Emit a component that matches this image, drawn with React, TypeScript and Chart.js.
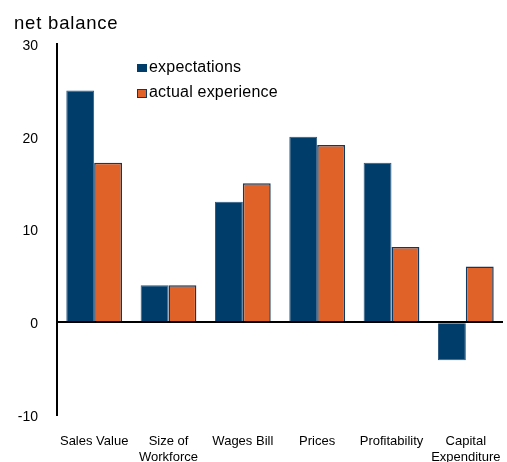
import React, { useEffect, useRef } from "react";
import { Chart, registerables } from "chart.js";

Chart.register(...registerables);

const categories: (string | string[])[] = [
  "Sales Value",
  ["Size of", "Workforce"],
  "Wages Bill",
  "Prices",
  "Profitability",
  ["Capital", "Expenditure"],
];
const expectations = [25, 4, 13, 20, 17.2, -4.1];
const actualExperience = [17.2, 4, 15, 19.1, 8.1, 6];
const seriesNames = ["expectations", "actual experience"];
const yTicks = [-10, 0, 10, 20, 30];
const yTitle = "net balance";

const BLUE = "#003d6a";
const ORANGE = "#e06228";
const FONT = "'Liberation Sans', Arial, sans-serif";

export default function App() {
  const ref = useRef<HTMLCanvasElement | null>(null);

  useEffect(() => {
    document.body.style.margin = "0";
    const ctx = ref.current;
    if (!ctx) return;
    const chart = new Chart(ctx, {
      type: "bar",
      data: {
        labels: categories,
        datasets: [
          {
            label: seriesNames[0],
            data: expectations,
            backgroundColor: BLUE,
            borderColor: "#2a5882",
            borderWidth: 1,
            categoryPercentage: 0.75,
            barPercentage: 1,
          },
          {
            label: seriesNames[1],
            data: actualExperience,
            backgroundColor: ORANGE,
            borderColor: "#0c3a62",
            borderWidth: 1.5,
            categoryPercentage: 0.75,
            barPercentage: 1,
          },
        ],
      },
      options: {
        responsive: false,
        animation: false,
        layout: { padding: { top: 44, right: 4, left: 0, bottom: 0 } },
        plugins: {
          legend: { display: false },
          title: { display: false },
          tooltip: { enabled: false },
        },
        scales: {
          x: {
            grid: { display: false, drawTicks: false },
            border: { display: false },
            ticks: {
              color: "#000",
              font: { family: FONT, size: 13 },
              maxRotation: 0,
              autoSkip: false,
              padding: 19,
            },
            afterFit: (s: any) => {
              s.height = 47;
              s.paddingLeft = 0;
              s.paddingRight = 0;
            },
          },
          y: {
            min: -10,
            max: 30,
            afterBuildTicks: (s: any) => {
              s.ticks = yTicks.map((v) => ({ value: v }));
            },
            grid: {
              drawTicks: false,
              color: (c: any) => (c.tick && c.tick.value === 0 ? "#000" : "rgba(0,0,0,0)"),
              lineWidth: 2,
            },
            border: { display: true, color: "#000", width: 2 },
            ticks: {
              color: "#000",
              font: { family: FONT, size: 14 },
              padding: 19,
              labelOffset: 2,
            },
            afterFit: (s: any) => {
              s.width = 57;
              s.paddingTop = 0;
              s.paddingBottom = 0;
            },
          },
        },
      },
    });
    return () => chart.destroy();
  }, []);

  const textStyle: React.CSSProperties = {
    position: "absolute",
    fontFamily: FONT,
    color: "#000",
    whiteSpace: "nowrap",
  };

  return (
    <div style={{ position: "relative", width: 507, height: 462, overflow: "hidden", background: "#fff" }}>
      <canvas ref={ref} width={507} height={462} style={{ position: "absolute", left: 0, top: 0 }} />
      <div style={{ ...textStyle, left: 14, top: 14, fontSize: 18.5, lineHeight: "18px", letterSpacing: "0.8px" }}>
        {yTitle}
      </div>
      <div style={{ position: "absolute", left: 137, top: 64, width: 10, height: 8, background: BLUE }} />
      <div style={{ ...textStyle, left: 149, top: 59, fontSize: 16, lineHeight: "16px", letterSpacing: "0.2px" }}>
        {seriesNames[0]}
      </div>
      <div
        style={{
          position: "absolute",
          left: 137,
          top: 89,
          width: 8,
          height: 7,
          background: ORANGE,
          border: "1px solid #0c3a62",
        }}
      />
      <div style={{ ...textStyle, left: 149, top: 84, fontSize: 16, lineHeight: "16px", letterSpacing: "0.2px" }}>
        {seriesNames[1]}
      </div>
    </div>
  );
}
